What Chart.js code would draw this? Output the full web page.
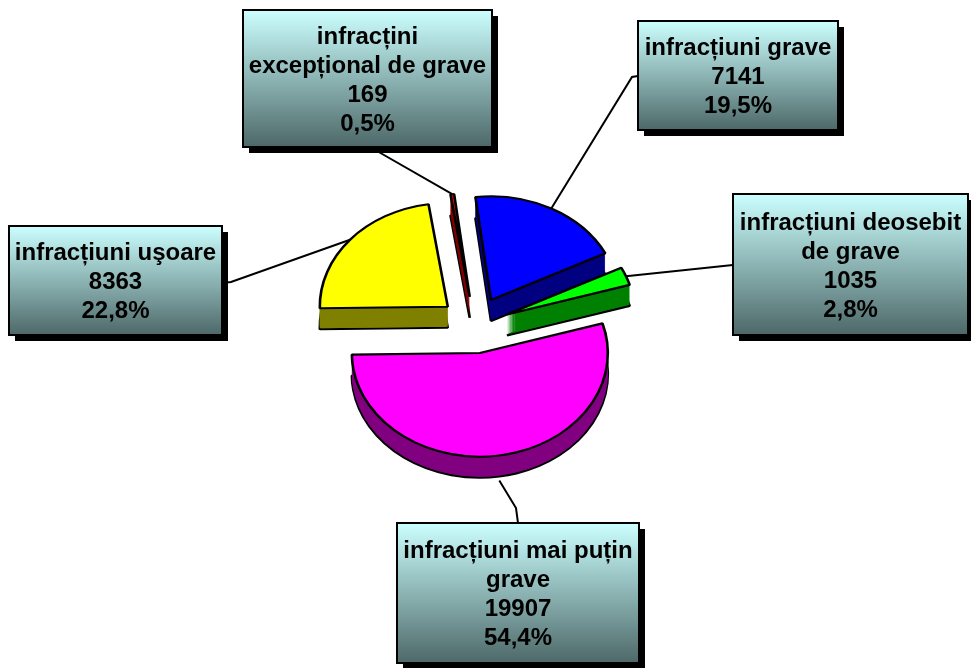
<!DOCTYPE html>
<html>
<head>
<meta charset="utf-8">
<script src="https://cdn.jsdelivr.net/npm/chart.js@4.4.1/dist/chart.umd.min.js"></script>
<style>
  body { margin: 0; background: #fff; }
  canvas { display: block; }
</style>
</head>
<body>
<canvas id="pieChart" width="971" height="668"></canvas>
<script>
// Chart data
const categories = ['infracțiuni grave', 'infracțiuni deosebit de grave', 'infracțiuni mai puțin grave', 'infracțiuni uşoare', 'infracțini excepțional de grave'];
const boxLines = [['infracțiuni grave'], ['infracțiuni deosebit', 'de grave'], ['infracțiuni mai puțin', 'grave'], ['infracțiuni uşoare'], ['infracțini', 'excepțional de grave']];
const counts = [7141, 1035, 19907, 8363, 169];
const topColors = ['#0000ff', '#00ff00', '#ff00ff', '#ffff00', '#ff0000'];
const sideColors = ['#000080', '#008000', '#800080', '#808000', '#800000'];

// look of the fake 3d pie
const SQUASH = 0.81;
const DEPTH = 21;
const EXPLODE = 35;

// label boxes: position + leader line start points
const boxes = [
    { x: 638, y: 21, w: 200, h: 109, line: [[638, 76], [632, 77]] },
    { x: 733, y: 194, w: 235, h: 141, line: [[733, 265]] },
    { x: 397, y: 523, w: 242, h: 140, line: [[518, 523], [516, 508]] },
    { x: 9, y: 226, w: 213, h: 109, line: [[222, 283], [231, 282]] },
    { x: 243, y: 10, w: 249, h: 137, line: [[370, 147]] }
];

const total = counts.reduce((a, b) => a + b, 0);
const percents = counts.map(v => (v / total * 100).toFixed(1).replace('.', ',') + '%');

function squash(ctx, cx, cy) {
    ctx.translate(cx, cy);
    ctx.scale(1, SQUASH);
    ctx.translate(-cx, -cy);
}

// draws the exploded slices with a side wall, instead of the flat default
const pie3d = {
    id: 'pie3d',
    beforeDatasetsDraw(chart) {
        const ctx = chart.ctx;
        const arcs = chart.getDatasetMeta(0).data;

        const drawArc = (arc, i, dy, opts) => {
            const m = (arc.startAngle + arc.endAngle) / 2;
            ctx.save();
            ctx.translate(0, dy);
            squash(ctx, arc.x, arc.y);
            ctx.translate(Math.cos(m) * EXPLODE, Math.sin(m) * EXPLODE);
            const orig = arc.options;
            if (opts) arc.options = Object.assign({}, orig, opts);
            arc.draw(ctx);
            arc.options = orig;
            ctx.restore();
        };

        // side walls
        arcs.forEach((arc, i) => drawArc(arc, i, DEPTH, { backgroundColor: sideColors[i] }));
        for (let d = DEPTH - 1; d >= 1; d--) {
            arcs.forEach((arc, i) => drawArc(arc, i, d, { backgroundColor: sideColors[i], borderWidth: 0 }));
        }
        // top faces
        arcs.forEach((arc, i) => drawArc(arc, i, 0, null));
        return false;
    }
};

const calloutLabels = {
    id: 'calloutLabels',
    afterDraw(chart) {
        const ctx = chart.ctx;
        const arcs = chart.getDatasetMeta(0).data;

        // leader lines
        arcs.forEach((arc, i) => {
            const m = (arc.startAngle + arc.endAngle) / 2;
            const r = arc.outerRadius + EXPLODE;
            let ax = arc.x + Math.cos(m) * r;
            let ay = arc.y + Math.sin(m) * r * SQUASH;
            if (Math.sin(m) > 0.5) ay += DEPTH + 4;
            ctx.save();
            ctx.strokeStyle = '#000';
            ctx.lineWidth = 2;
            ctx.beginPath();
            boxes[i].line.forEach((p, j) => j === 0 ? ctx.moveTo(p[0], p[1]) : ctx.lineTo(p[0], p[1]));
            ctx.lineTo(ax, ay);
            ctx.stroke();
            ctx.restore();
        });

        // boxes
        boxes.forEach((b, i) => {
            ctx.save();
            ctx.fillStyle = '#000';
            ctx.fillRect(b.x + 6, b.y + 6, b.w, b.h);
            const grad = ctx.createLinearGradient(0, b.y, 0, b.y + b.h);
            grad.addColorStop(0, '#ccffff');
            grad.addColorStop(1, '#4d6868');
            ctx.fillStyle = grad;
            ctx.fillRect(b.x, b.y, b.w, b.h);
            ctx.strokeStyle = '#000';
            ctx.lineWidth = 2;
            ctx.strokeRect(b.x, b.y, b.w, b.h);

            const lines = boxLines[i].concat([String(counts[i]), percents[i]]);
            const lh = 29;
            const startY = b.y + b.h / 2 - (lines.length - 1) * lh / 2 + 2;
            ctx.fillStyle = '#000';
            ctx.font = 'bold 24px "Liberation Sans", Arial, sans-serif';
            ctx.textAlign = 'center';
            ctx.textBaseline = 'middle';
            lines.forEach((t, j) => ctx.fillText(t, b.x + b.w / 2, startY + j * lh));
            ctx.restore();
        });
    }
};

new Chart(document.getElementById('pieChart').getContext('2d'), {
    type: 'pie',
    data: {
        labels: categories,
        datasets: [{
            data: counts,
            backgroundColor: topColors,
            borderColor: '#000',
            borderWidth: 2.6,
            clip: false
        }]
    },
    options: {
        responsive: false,
        animation: false,
        rotation: -7,
        radius: 128,
        layout: { padding: { left: 150, right: 172, top: 150, bottom: 168 } },
        plugins: {
            legend: { display: false },
            title: { display: false },
            tooltip: { enabled: false }
        }
    },
    plugins: [pie3d, calloutLabels]
});
</script>
</body>
</html>
